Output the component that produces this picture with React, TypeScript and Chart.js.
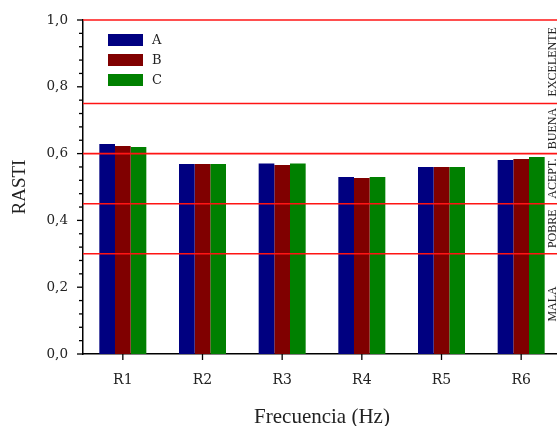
import React, { useEffect, useRef } from "react";
import { Chart, registerables } from "chart.js";

Chart.register(...registerables);

const categories = ["R1", "R2", "R3", "R4", "R5", "R6"];
const seriesA = [0.629, 0.569, 0.57, 0.53, 0.56, 0.581];
const seriesB = [0.623, 0.569, 0.566, 0.527, 0.56, 0.584];
const seriesC = [0.62, 0.569, 0.57, 0.53, 0.56, 0.59];
const seriesNames = ["A", "B", "C"];
const seriesColors = ["#000080", "#800000", "#008000"];
const thresholds = [1.0, 0.75, 0.6, 0.45, 0.3];
const bandLabels = ["EXCELENTE", "BUENA", "ACEPT.", "POBRE", "MALA"];
const bandEdges = [1.0, 0.75, 0.6, 0.45, 0.3, 0.0];

const SERIF = "'Liberation Serif', 'Times New Roman', serif";
const DSERIF = "'DejaVu Serif', serif";

const overlayPlugin = {
  id: "overlay",
  afterDatasetsDraw(chart: any) {
    const ctx = chart.ctx;
    const y = chart.scales.y;
    const x = chart.scales.x;
    const area = chart.chartArea;
    ctx.save();
    // threshold lines
    ctx.strokeStyle = "rgb(255,20,20)";
    ctx.lineWidth = 1.6;
    thresholds.forEach((t) => {
      const py = y.getPixelForValue(t);
      ctx.beginPath();
      ctx.moveTo(area.left, py);
      ctx.lineTo(area.right, py);
      ctx.stroke();
    });
    // band labels
    ctx.fillStyle = "#222";
    ctx.font = "12px " + SERIF;
    ctx.textAlign = "center";
    ctx.textBaseline = "alphabetic";
    bandLabels.forEach((lab, i) => {
      const cy = (y.getPixelForValue(bandEdges[i]) + y.getPixelForValue(bandEdges[i + 1])) / 2;
      ctx.save();
      ctx.translate(area.right - 5, cy);
      ctx.rotate(-Math.PI / 2);
      ctx.fillText(lab, 0, 0);
      ctx.restore();
    });
    // axis ticks
    ctx.strokeStyle = "#000";
    ctx.lineWidth = 1.3;
    y.ticks.forEach((t: any) => {
      const py = y.getPixelForValue(t.value);
      const major = Math.abs(t.value * 5 - Math.round(t.value * 5)) < 1e-6;
      const len = major ? 6 : 4;
      ctx.beginPath();
      ctx.moveTo(area.left - len, py);
      ctx.lineTo(area.left, py);
      ctx.stroke();
    });
    categories.forEach((_, i) => {
      const px = x.getPixelForValue(i);
      ctx.beginPath();
      ctx.moveTo(px, area.bottom);
      ctx.lineTo(px, area.bottom + 6);
      ctx.stroke();
    });
    // legend
    ctx.font = "13px " + DSERIF;
    ctx.textAlign = "left";
    ctx.textBaseline = "middle";
    seriesNames.forEach((name, i) => {
      const cy = area.top + 20 + i * 20;
      ctx.fillStyle = seriesColors[i];
      ctx.fillRect(area.left + 25, cy - 6, 35, 12);
      ctx.fillStyle = "#222";
      ctx.fillText(name, area.left + 69, cy + 1);
    });
    ctx.restore();
  },
};

export default function App() {
  const ref = useRef<HTMLCanvasElement>(null);
  useEffect(() => {
    if (!ref.current) return;
    const chart = new Chart(ref.current, {
      type: "bar",
      data: {
        labels: categories,
        datasets: [seriesA, seriesB, seriesC].map((d, i) => ({
          label: seriesNames[i],
          data: d,
          backgroundColor: seriesColors[i],
          borderWidth: 0,
          categoryPercentage: 0.59,
          barPercentage: 1,
        })),
      },
      options: {
        animation: false,
        responsive: true,
        maintainAspectRatio: false,
        layout: { padding: { top: 20, right: 0, left: 0, bottom: 0 } },
        plugins: { legend: { display: false }, tooltip: { enabled: false } },
        scales: {
          x: {
            afterFit: (s: any) => {
              s.height = 72;
            },
            grid: { display: false, drawTicks: true, tickLength: 6 },
            border: { display: true, color: "#000", width: 1.5 },
            ticks: { color: "#222", font: { family: DSERIF, size: 14 }, padding: 12 },
            title: {
              display: true,
              text: "Frecuencia (Hz)",
              color: "#222",
              font: { family: SERIF, size: 21, lineHeight: 1 },
              padding: { top: 0, bottom: -1.5 },
            },
          },
          y: {
            min: 0,
            max: 1,
            afterFit: (s: any) => {
              s.width = 83;
            },
            grid: { display: false, drawTicks: true, tickLength: 6 },
            border: { display: true, color: "#000", width: 1.5 },
            ticks: {
              stepSize: 0.04,
              autoSkip: false,
              color: "#222",
              font: { family: DSERIF, size: 13.5 },
              padding: 9,
              callback: (v: any) => {
                const n = Number(v);
                if (Math.abs(n * 5 - Math.round(n * 5)) < 1e-6) {
                  return n.toFixed(1).replace(".", ",");
                }
                return "";
              },
            },
            title: {
              display: true,
              text: "RASTI",
              color: "#222",
              font: { family: SERIF, size: 19, lineHeight: 1 },
              padding: { top: 11, bottom: 0 },
            },
          },
        },
      },
      plugins: [overlayPlugin],
    });
    return () => chart.destroy();
  }, []);
  return (
    <div style={{ position: "fixed", left: 0, top: 0, width: 557, height: 426, overflow: "hidden", background: "#fff" }}>
      <div style={{ position: "relative", width: 561, height: 426 }}>
        <canvas ref={ref} />
      </div>
    </div>
  );
}
